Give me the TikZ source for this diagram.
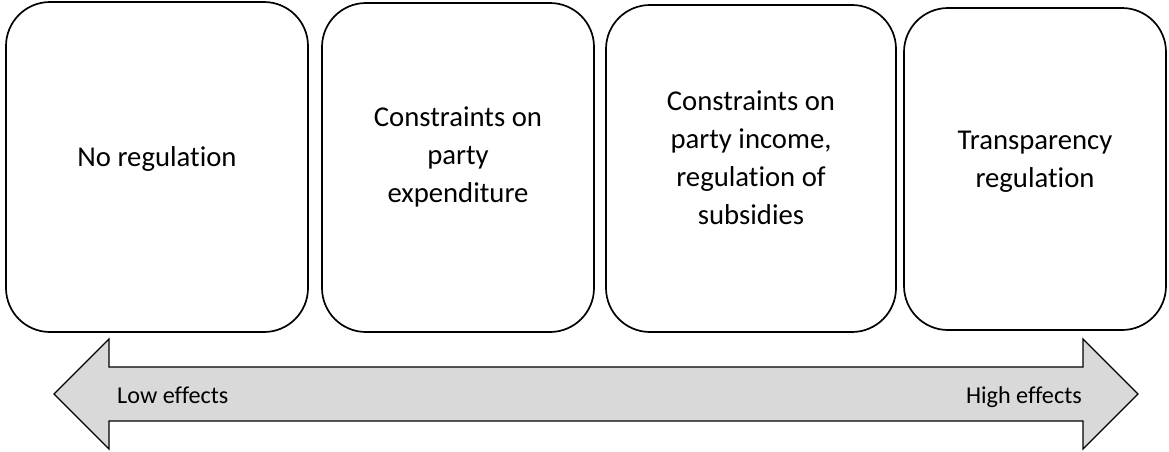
\documentclass[tikz,border=0pt]{standalone}
\usepackage{fontspec}
\setmainfont{Carlito}[Ligatures={NoCommon}]
\begin{document}
\begin{tikzpicture}[x=1pt,y=-1pt,
  box/.style={draw=black, line width=1.7pt, rounded corners=44pt, fill=white,
    inner sep=0pt, minimum width=#1},
  lbl/.style={align=center, inner sep=0pt, anchor=north,
    font=\fontsize{28.7}{38}\selectfont},
  scale label/.style={inner sep=0pt, font=\fontsize{24.2}{28}\selectfont},
  scalebar/.style={draw=black, line width=1.3pt, fill=black!15, line join=miter}]
  \useasboundingbox (0,0) rectangle (1169,451);

  % the four categories of regulation
  \node[box=302, minimum height=330] (b1) at (157,167) {};
  \node[box=272, minimum height=329] (b2) at (458,167.5) {};
  \node[box=290, minimum height=327] (b3) at (751,168.5) {};
  \node[box=262, minimum height=322] (b4) at (1035,169) {};

  \node[lbl] (t1) at (157,146) {\rule{0pt}{20pt}No regulation};
  \node[lbl] (t2) at (458,106) {\rule{0pt}{20pt}Constraints on\\party\\expenditure};
  \node[lbl] (t3) at (751,90) {\rule{0pt}{20pt}Constraints on\\party income,\\regulation of\\subsidies};
  \node[lbl] (t4) at (1035,129) {\rule{0pt}{20pt}Transparency\\regulation};

  % two-headed scale of effects
  \coordinate (lt) at (54,394);
  \coordinate (rt) at (1138,394);
  \path[scalebar] (lt) -- (109,339) -- (109,367) -- (1083,367) -- (1083,339)
    -- (rt) -- (1083,449) -- (1083,421) -- (109,421) -- (109,449) -- cycle;

  \node[scale label, anchor=base west] (low) at (117,403) {Low effects};
  \node[scale label, anchor=base east] (high) at (1082,403) {High effects};
\end{tikzpicture}
\end{document}
